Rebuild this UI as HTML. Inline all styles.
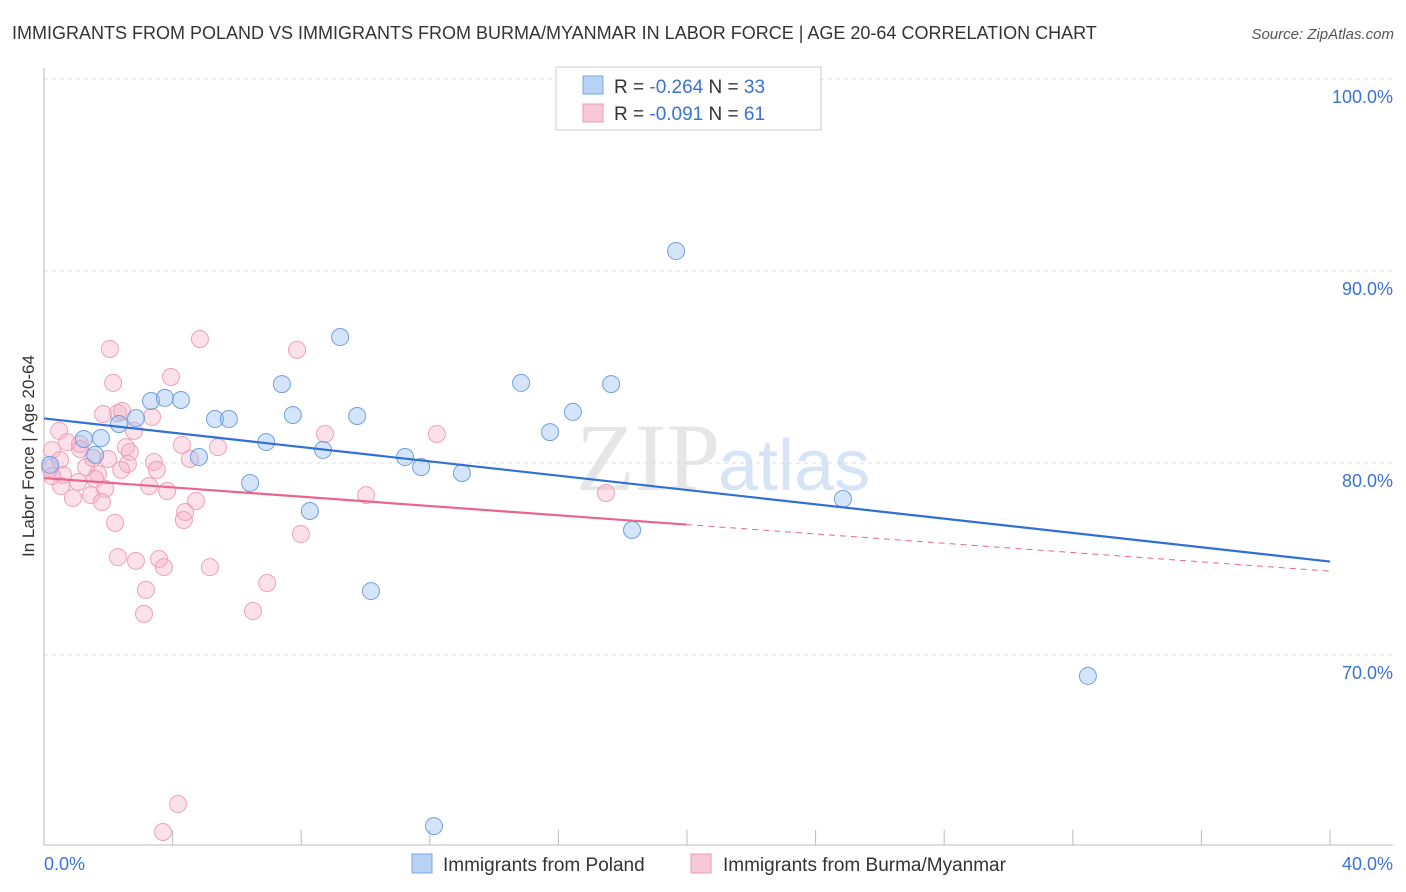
<!DOCTYPE html>
<html><head><meta charset="utf-8"><style>
body{margin:0;background:#fff;font-family:"Liberation Sans",sans-serif;}
svg{display:block}
</style></head><body>
<svg id="c" width="1406" height="892">
<text x="12" y="39" font-size="18" fill="#333">IMMIGRANTS FROM POLAND VS IMMIGRANTS FROM BURMA/MYANMAR IN LABOR FORCE | AGE 20-64 CORRELATION CHART</text>
<text x="1394" y="39" font-size="15" fill="#555" font-style="italic" text-anchor="end">Source: ZipAtlas.com</text>
<text x="720" y="490" font-size="96" font-family="Liberation Serif,serif" fill="#e6e6e6" text-anchor="end">ZIP</text>
<text x="718" y="490" font-size="72" fill="#d6e4f5">atlas</text>
<text transform="translate(34,456) rotate(-90)" font-size="17" fill="#333" text-anchor="middle">In Labor Force | Age 20-64</text>
<g id="grid"></g><g id="pts"></g><g id="lines"></g>
<g>
<rect x="556" y="67" width="265" height="63" fill="#fff" stroke="#ccc"/>
<rect x="583" y="76" width="20" height="18" fill="#b8d2f5" stroke="#7aa6e0"/>
<rect x="583" y="104" width="20" height="18" fill="#f9c8d7" stroke="#ec9ab5"/>
<text x="614" y="93" font-size="19" fill="#333">R = <tspan fill="#3a73d0">-0.264</tspan>   N = <tspan fill="#3a73d0">33</tspan></text>
<text x="614" y="120" font-size="19" fill="#333">R = <tspan fill="#3a73d0">-0.091</tspan>   N = <tspan fill="#3a73d0"> 61</tspan></text>
</g>
<g>
<rect x="412" y="854" width="20" height="19" fill="#b8d2f5" stroke="#7aa6e0"/>
<text x="443" y="871" font-size="19" fill="#333">Immigrants from Poland</text>
<rect x="691" y="854" width="20" height="19" fill="#f9c8d7" stroke="#ec9ab5"/>
<text x="723" y="871" font-size="19" fill="#333">Immigrants from Burma/Myanmar</text>
</g>
</svg>
<script>
const xTickLabels=["0.0%","40.0%"];
const yTicks=[70,80,90,100];
const yTickLabels=["70.0%","80.0%","90.0%","100.0%"];
const polandX=[19.66,9.21,7.40,14.84,17.64,3.33,3.76,4.26,2.86,5.32,5.75,7.74,9.74,16.45,2.33,1.24,1.77,6.91,15.74,8.68,4.82,11.23,1.59,11.73,13.0,6.41,24.85,8.27,18.29,10.17,32.47,12.13,0.19];
const polandY=[91.04,86.56,84.11,84.17,84.11,83.23,83.39,83.28,82.34,82.29,82.29,82.5,82.45,82.66,82.03,81.25,81.30,81.09,81.61,80.68,80.31,80.31,80.42,79.79,79.48,78.96,78.13,77.5,76.51,73.33,68.91,61.09,79.9];
const burmaX=[2.05,4.85,7.87,3.95,2.15,1.84,2.30,2.43,3.36,0.47,2.80,8.74,12.22,0.72,4.29,2.55,2.67,5.41,1.12,1.52,1.99,4.54,0.25,3.42,2.61,3.51,1.31,1.68,0.59,1.06,1.59,3.27,3.83,1.90,0.53,1.46,0.90,4.73,10.02,17.48,1.80,4.39,4.35,2.21,7.99,2.30,3.58,2.86,3.73,5.16,6.94,3.17,6.50,3.11,4.17,3.70,0.19,0.25,1.12,2.40,0.50];
const burmaY=[85.94,86.46,85.89,84.48,84.17,82.55,82.60,82.71,82.40,81.67,81.67,81.51,81.51,81.09,80.94,80.83,80.57,80.83,80.73,80.26,80.21,80.21,80.68,80.05,79.95,79.64,79.79,79.43,79.38,79.01,79.17,78.80,78.54,78.65,78.80,78.33,78.18,78.02,78.33,78.44,77.97,77.45,77.03,76.88,76.30,75.10,75.0,74.9,74.58,74.58,73.75,73.39,72.29,72.14,62.24,60.78,79.74,79.32,80.99,79.64,80.16];
const NS="http://www.w3.org/2000/svg";
const X=v=>44+v*1286/40, Y=v=>463-(v-80)*19.2;
function mk(t,a,p){const e=document.createElementNS(NS,t);for(const k in a)e.setAttribute(k,a[k]);p.appendChild(e);return e;}
const grid=document.getElementById('grid'),pts=document.getElementById('pts'),lines=document.getElementById('lines');
yTicks.forEach((t,i)=>{
 const l=mk('line',{x1:44,x2:1393,y1:Y(t),y2:Y(t),stroke:'#ddd','stroke-dasharray':'4,4'},grid);
 
 
 const tx=mk('text',{x:1393,y:Y(t)+24,'font-size':18,fill:'#3a73d0','text-anchor':'end'},grid);
 tx.textContent=yTickLabels[i];
 
 
});
let ax=mk('line',{x1:44,x2:44,y1:68,y2:845,stroke:'#bbb'},grid);


ax=mk('line',{x1:44,x2:1393,y1:845,y2:845,stroke:'#bbb'},grid);


for(let i=0;i<=10;i++){const tk=mk('line',{x1:X(i*4),x2:X(i*4),y1:830,y2:845,stroke:'#bbb'},grid);
 
 }
[[0,'start',44],[40,'end',1393]].forEach((d,i)=>{const t=mk('text',{x:d[2],y:870,'font-size':18,fill:'#3a73d0','text-anchor':d[1]},grid);t.textContent=xTickLabels[i];
 
 });
function dots(xs,ys,fill,stroke,name){xs.forEach((x,i)=>{const c=mk('circle',{cx:X(x),cy:Y(ys[i]),r:8.5,fill:fill,stroke:stroke,'stroke-width':1},pts);
 
 });}
dots(burmaX,burmaY,'rgba(245,170,195,0.35)','#eea0ba','point-burma');
dots(polandX,polandY,'rgba(150,190,240,0.4)','#6f9fe0','point-poland');
function reg(xs,ys){const n=xs.length;let mx=0,my=0;xs.forEach((x,i)=>{mx+=x;my+=ys[i]});mx/=n;my/=n;let sxy=0,sxx=0;xs.forEach((x,i)=>{sxy+=(x-mx)*(ys[i]-my);sxx+=(x-mx)*(x-mx)});const b=sxy/sxx;return [my-b*mx,b];}
const [pa,pb]=reg(polandX,polandY);
let ln=mk('line',{x1:X(0),y1:Y(pa),x2:X(40),y2:Y(pa+pb*40),stroke:'#2f6fd6','stroke-width':2.2},lines);


const [ba,bb]=reg(burmaX,burmaY);
const bmax=Math.max(...burmaX)+2.5;
ln=mk('line',{x1:X(0),y1:Y(ba),x2:X(bmax),y2:Y(ba+bb*bmax),stroke:'#e8658f','stroke-width':2.2},lines);


ln=mk('line',{x1:X(bmax),y1:Y(ba+bb*bmax),x2:X(40),y2:Y(ba+bb*40),stroke:'#e8658f','stroke-width':1,'stroke-dasharray':'6,5'},lines);


</script>
</body></html>
